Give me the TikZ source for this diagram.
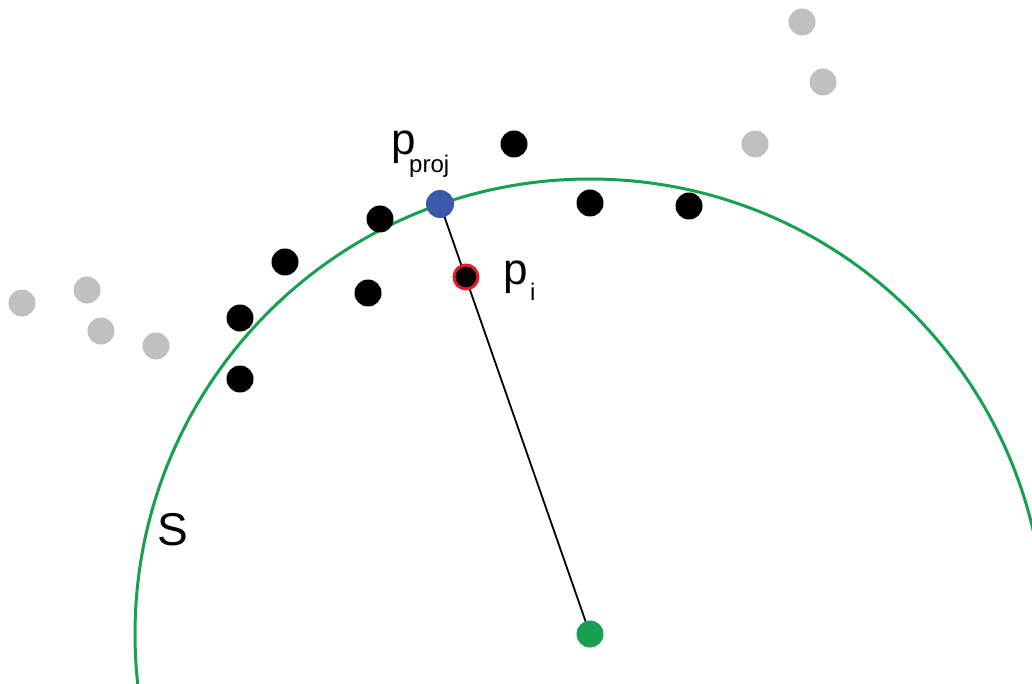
\documentclass[tikz,border=0pt]{standalone}
\usepackage{fontspec}
\setmainfont{Liberation Sans}
\definecolor{cgreen}{RGB}{22,160,80}
\definecolor{cblue}{RGB}{60,90,170}
\definecolor{cgray}{RGB}{192,192,192}
\definecolor{cred}{RGB}{228,30,40}
\begin{document}
\begin{tikzpicture}[x=1pt,y=-1pt,
  dot/.style={circle,fill=black,inner sep=0pt,minimum size=27pt},
  gdot/.style={circle,fill=cgray,inner sep=0pt,minimum size=27pt},
  lbl/.style={inner sep=0pt,anchor=base west,font=\fontsize{44}{44}\selectfont},
  sub/.style={inner sep=0pt,anchor=base west,font=\fontsize{24}{24}\selectfont}]
\path[use as bounding box] (0,0) rectangle (1032,684);
\begin{scope}
\clip (0,0) rectangle (1032,684);
\draw[cgreen,line width=3pt] (590,634) circle[radius=455];
\end{scope}
% gray points
\node[gdot] (g1) at (22,303) {};
\node[gdot] (g2) at (87,290) {};
\node[gdot] (g3) at (101,331) {};
\node[gdot] (g4) at (156,346) {};
\node[gdot] (g5) at (802,22) {};
\node[gdot] (g6) at (823,82) {};
\node[gdot] (g7) at (755,144) {};
% black points
\node[dot] (b1) at (514,144) {};
\node[dot] (b2) at (590,203) {};
\node[dot] (b3) at (689,206) {};
\node[dot] (b4) at (380,219) {};
\node[dot] (b5) at (285,262) {};
\node[dot] (b6) at (368,293) {};
\node[dot] (b7) at (240,318) {};
\node[dot] (b8) at (240,379) {};
% center, projection, point
\coordinate (c) at (590,634);
\coordinate (pp) at (440,204);
\draw[line width=1.8pt] (pp) -- (c);
\node[circle,fill=cgreen,inner sep=0pt,minimum size=27pt] (center) at (c) {};
\node[circle,fill=cblue,inner sep=0pt,minimum size=28pt] (proj) at (pp) {};
\node[circle,fill=black,draw=cred,line width=3pt,inner sep=0pt,minimum size=24pt] (pi) at (466,277) {};
% labels
\node[lbl] (lp) at (391,155) {p};
\node[sub] (lproj) at (409,173) {proj};
\node[lbl] (lpi) at (503,285) {p};
\node[sub] (li) at (530,300) {i};
\node[inner sep=0pt,anchor=base west,font=\fontsize{46}{46}\selectfont] (S) at (157,545) {S};
\end{tikzpicture}
\end{document}
